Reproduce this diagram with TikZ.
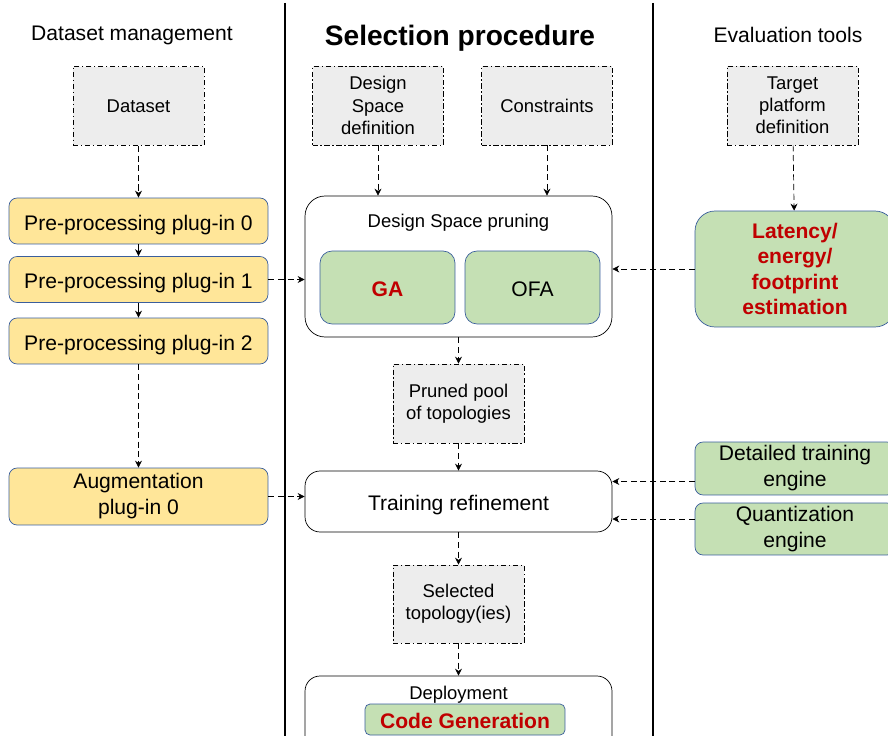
\documentclass[tikz,border=0pt]{standalone}
\usepackage{fontspec}
\setmainfont{Liberation Sans}
\usetikzlibrary{arrows.meta}
\definecolor{boxgray}{HTML}{EDEDED}
\definecolor{plugyellow}{HTML}{FFE699}
\definecolor{toolgreen}{HTML}{C5E0B4}
\definecolor{edgeblue}{HTML}{3A5E9C}
\definecolor{hotred}{HTML}{C00000}
\newcommand{\fsmall}{\fontsize{10.5}{12.6}\selectfont}
\newcommand{\fmid}{\fontsize{12}{14.8}\selectfont}
\begin{document}
\begin{tikzpicture}[x=0.02cm, y=-0.02cm]
	\tikzstyle{Input} = [rectangle, minimum width=2.62cm, minimum height=1.58cm, align=center, inner sep=0pt, draw=black, fill=boxgray, dash pattern=on 3pt off 1.5pt on 0.8pt off 1.5pt, font=\fsmall]
	\tikzstyle{Plugin} = [rectangle, rounded corners=0.16cm, minimum width=5.18cm, minimum height=0.92cm, align=center, inner sep=0pt, draw=edgeblue, fill=plugyellow, font=\fmid]
	\tikzstyle{Tool} = [rectangle, rounded corners=0.16cm, minimum width=4cm, align=center, inner sep=0pt, draw=edgeblue, fill=toolgreen, font=\fmid]
	\tikzstyle{Stage} = [rectangle, rounded corners=0.3cm, minimum width=6.14cm, align=center, inner sep=0pt, draw=black, fill=white, font=\fmid]
	\tikzstyle{oneline} = [text height=12.8pt, text depth=2.5pt]
	\tikzstyle{smallline} = [font=\fsmall, text height=11.2pt, text depth=2.2pt]
	\tikzstyle{Title} = [font=\fmid]
	\tikzstyle{arrow} = [dash pattern=on 3.5pt off 2pt, -{Stealth[length=4pt, width=4pt]}]
	\tikzstyle{link} = [-{Stealth[length=4pt, width=4pt]}]
	
	\clip (0,0) rectangle (888,736);
	\fill [white] (0,0) rectangle (888,736);
	
	% column borders
	\draw [line width=1.1pt] (285,3) -- (285,736);
	\draw [line width=1.1pt] (653,3) -- (653,736);
	
	% titles
	\node (tdata) [Title] at (132,35) {Dataset management};
	\node (tsel) [font=\fontsize{16}{18}\selectfont\bfseries] at (460,38) {Selection procedure};
	\node (teval) [Title] at (788,35) {Evaluation tools};
	
	% dataset management
	\node (dataset) [Input] at (138.5,106) {Dataset};
	\node (pre0) [Plugin, oneline] at (138.5,221) {Pre-processing plug-in 0};
	\node (pre1) [Plugin, oneline] at (138.5,279.5) {Pre-processing plug-in 1};
	\node (pre2) [Plugin, oneline] at (138.5,341) {Pre-processing plug-in 2};
	\node (aug) [Plugin, minimum height=1.14cm] at (138.5,496.5) {Augmentation\\plug-in 0};
	
	% selection procedure
	\node (dsdef) [Input] at (378,105.5) {Design\\Space\\definition};
	\node (cons) [Input] at (547,105.5) {Constraints};
	\node (dsp) [Stage, rounded corners=0.4cm, minimum height=2.82cm] at (458.5,266.5) {};
	\node (dsplabel) [smallline] at (458.5,220) {Design Space pruning};
	\node (ga) [Tool, oneline, minimum width=2.7cm, minimum height=1.46cm, rounded corners=0.24cm, text=hotred, font=\fmid\bfseries] at (387.5,287.5) {GA};
	\node (ofa) [Tool, oneline, minimum width=2.7cm, minimum height=1.46cm, rounded corners=0.24cm] at (532.5,287.5) {OFA};
	\node (pool) [Input] at (458.5,403.5) {Pruned pool\\of topologies};
	\node (train) [Stage, oneline, minimum height=1.22cm] at (458.5,501.5) {Training refinement};
	\node (sel) [Input, minimum height=1.56cm] at (458.5,604) {Selected\\topology(ies)};
	\node (deploy) [Stage, minimum height=1.68cm] at (458.5,718) {};
	\node (deplabel) [smallline] at (458.5,692) {Deployment};
	\node (codegen) [Tool, oneline, minimum width=4cm, minimum height=0.62cm, rounded corners=0.1cm, text=hotred, font=\fmid\bfseries] at (465,719.5) {Code Generation};
	
	% evaluation tools
	\node (target) [Input] at (792.5,105.5) {Target\\platform\\definition};
	\node (lat) [Tool, minimum height=2.32cm, rounded corners=0.4cm, text=hotred, font=\fontsize{12}{14.3}\selectfont\bfseries] at (795,269) {Latency/\\energy/\\footprint\\estimation};
	\node (det) [Tool, minimum height=1.06cm] at (795,468.5) {Detailed training\\engine};
	\node (quant) [Tool, minimum height=1.04cm] at (795,529) {Quantization\\engine};
	
	% connectors
	\draw [arrow] (dataset) -- (pre0);
	\draw [link] (pre0) -- (pre1);
	\draw [link] (pre1) -- (pre2);
	\draw [arrow] (pre2) -- (aug);
	\draw [arrow] (pre1.east) -- (pre1.east -| dsp.west);
	\draw [arrow] (aug.east) -- (aug.east -| train.west);
	\draw [arrow] (dsdef) -- (dsdef |- dsp.north);
	\draw [arrow] (cons) -- (cons |- dsp.north);
	\draw [arrow] (target) -- (lat);
	\draw [arrow] (lat.west) -- (lat.west -| dsp.east);
	\draw [arrow] (dsp) -- (pool);
	\draw [arrow] (pool) -- (train);
	\draw [arrow] (train) -- (sel);
	\draw [arrow] (sel) -- (deploy);
	\coordinate (detout) at ([yshift=-0.26cm]det.west);
	\coordinate (quantout) at ([yshift=0.2cm]quant.west);
	\draw [arrow] (detout) -- (detout -| train.east);
	\draw [arrow] (quantout) -- (quantout -| train.east);
\end{tikzpicture}
\end{document}
